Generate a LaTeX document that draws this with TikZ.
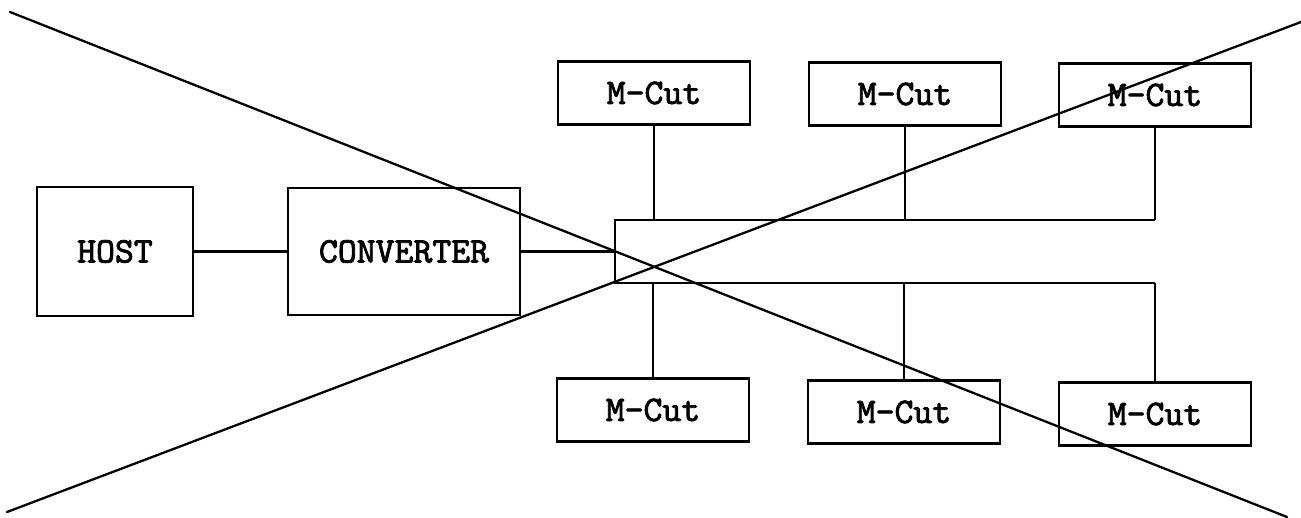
\documentclass[tikz,border=0pt]{standalone}
\usepackage{fontspec}
\newfontfamily\heavymono{lmmono10-regular}[Extension=.otf, FakeBold=2.2]
\begin{document}
\begin{tikzpicture}[x=1pt,y=-1pt,
  box/.style={draw, line width=2.4pt, inner sep=0pt,
    font=\heavymono\fontsize{36}{40}\selectfont},
  cutbox/.style={box, minimum width=192pt, minimum height=63pt},
  wire/.style={line width=2.2pt},
  cross/.style={line width=2.3pt, line cap=round}]
\useasboundingbox (0,0) rectangle (1301,518);

% host and converter
\node[box, minimum width=156pt, minimum height=129pt] (host) at (115,251.5) {HOST\hspace{20pt}};
\node[box, minimum width=232pt, minimum height=127pt] (conv) at (404,251.5) {CONVERTER};

% distribution frame, open on the right side
\node[minimum width=540pt, minimum height=63pt, inner sep=0pt] (hub) at (885,251.5) {};
\draw[wire] (hub.north east) -- (hub.north west) -- (hub.south west) -- (hub.south east);

% cutter units
\node[cutbox] (t1) at (654,93)  {M-Cut};
\node[cutbox] (t2) at (905,94)  {M-Cut};
\node[cutbox] (t3) at (1155,95) {M-Cut};
\node[cutbox] (b1) at (653,410) {M-Cut};
\node[cutbox] (b2) at (904,412) {M-Cut};
\node[cutbox] (b3) at (1155,414) {M-Cut};

% connections
\draw[wire] (host.east) -- (conv.west);
\draw[wire] (conv.east) -- (conv.east -| hub.west);
\foreach \n in {t1,t2,t3} \draw[wire] (\n.south) -- (\n.south |- hub.north);
\foreach \n in {b1,b2,b3} \draw[wire] (\n.north) -- (\n.north |- hub.south);

% crossing strokes
\coordinate (c1) at (10,12);
\coordinate (c2) at (1287,517);
\coordinate (c3) at (7,512);
\coordinate (c4) at (1301,22);
\draw[cross] (c1) -- (c2);
\draw[cross] (c3) -- (c4);
\end{tikzpicture}
\end{document}
